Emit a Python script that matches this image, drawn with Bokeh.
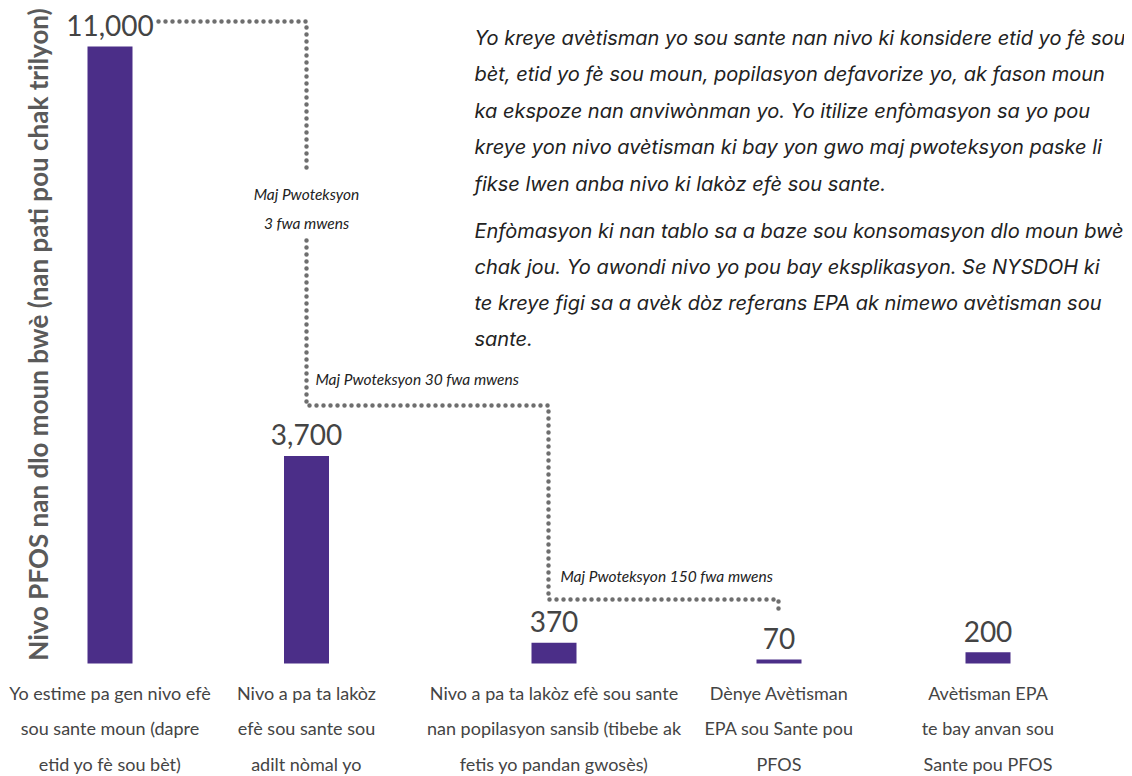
import math
from bokeh.plotting import figure
from bokeh.models import Range1d, ColumnDataSource
from bokeh.core.properties import value
from bokeh.embed import file_html
from bokeh.resources import INLINE

# ---------------- data ----------------
categories = [
    "Yo estime pa gen nivo efè\nsou sante moun (dapre\netid yo fè sou bèt)",
    "Nivo a pa ta lakòz\nefè sou sante sou\nadilt nòmal yo",
    "Nivo a pa ta lakòz efè sou sante\nnan popilasyon sansib (tibebe ak\nfetis yo pandan gwosès)",
    "Dènye Avètisman\nEPA sou Sante pou\nPFOS",
    "Avètisman EPA\nte bay anvan sou\nSante pou PFOS",
]
values = [11000, 3700, 370, 70, 200]
value_labels = ["11,000", "3,700", "370", "70", "200"]
y_title = "Nivo PFOS nan dlo moun bwè (nan pati pou chak trilyon)"
protection_notes = ["Maj Pwoteksyon\n3 fwa mwens", "Maj Pwoteksyon 30 fwa mwens", "Maj Pwoteksyon 150 fwa mwens"]
paragraph1 = [
    "Yo kreye avètisman yo sou sante nan nivo ki konsidere etid yo fè sou",
    "bèt, etid yo fè sou moun, popilasyon defavorize yo, ak fason moun",
    "ka ekspoze nan anviwònman yo. Yo itilize enfòmasyon sa yo pou",
    "kreye yon nivo avètisman ki bay yon gwo maj pwoteksyon paske li",
    "fikse lwen anba nivo ki lakòz efè sou sante.",
]
paragraph2 = [
    "Enfòmasyon ki nan tablo sa a baze sou konsomasyon dlo moun bwè",
    "chak jou. Yo awondi nivo yo pou bay eksplikasyon. Se NYSDOH ki",
    "te kreye figi sa a avèk dòz referans EPA ak nimewo avètisman sou",
    "sante.",
]

# ---------------- layout ----------------
W, H = 1124, 776
OFF = 0              # page pixel where the figure starts
BASE_PX = 663.0      # page pixel of value 0
TOP_PX = 46.0        # page pixel of value 11000
ppu = (BASE_PX - TOP_PX) / values[0]
y_lo = (BASE_PX - (OFF + H)) / ppu
y_hi = (BASE_PX - OFF) / ppu

bar_centers = [109.5, 306, 553.5, 778.5, 987.5]
BAR_W = 45
PURPLE = "#4b2e88"
F_NARROW = "Lato"
F_PARA = "Inter"

p = figure(width=W, height=H, output_backend="svg", toolbar_location=None,
           x_range=Range1d(OFF, OFF + W), y_range=Range1d(y_lo, y_hi),
           min_border=0, outline_line_color=None, background_fill_color="white",
           border_fill_color="white")
p.extra_y_ranges = {"px": Range1d(start=OFF + H, end=OFF)}
p.xaxis.visible = False
p.yaxis.visible = False
p.xgrid.visible = False
p.ygrid.visible = False

# bars
src = ColumnDataSource(dict(x=bar_centers, top=values, lab=value_labels))
p.vbar(x="x", top="top", bottom=0, width=BAR_W, source=src, fill_color=PURPLE, line_color=None)
p.text(x="x", y="top", text="lab", source=src, text_align="center", text_baseline="middle",
       y_offset=-21, text_font=value(F_NARROW), text_font_size="28px", text_color="#444444")

# category labels
cx, cy, ct = [], [], []
for xc, cat in zip(bar_centers, categories):
    for i, line in enumerate(cat.split("\n")):
        cx.append(xc); cy.append(692 + i * 35.5); ct.append(line)
p.text(x=cx, y=cy, text=ct, y_range_name="px", text_align="center", text_baseline="middle",
       text_font=value(F_NARROW), text_font_size="18px", text_color="#444444")

# y title
p.text(x=[37], y=[334], text=[y_title], y_range_name="px", angle=math.pi / 2,
       text_align="center", text_baseline="middle", text_font=value(F_NARROW),
       text_font_size="26px", text_font_style="bold", text_color="#5a5a5a")

# dotted connector
dot = dict(line_color="#6e6e6e", line_width=4.5, line_dash="0 7", line_cap="round", y_range_name="px")
p.line(x=[158, 306, 306], y=[21, 21, 172], **dot)
p.line(x=[306, 306, 548, 548, 778, 778], y=[240, 405, 405, 599, 599, 610], **dot)

# protection notes
n1 = protection_notes[0].split("\n")
note = dict(y_range_name="px", text_baseline="middle", text_font=value(F_NARROW),
            text_font_size="15.5px", text_font_style="italic", text_color="#222222")
p.text(x=[306, 306], y=[193, 222], text=n1, text_align="center", **note)
p.text(x=[315], y=[378], text=[protection_notes[1]], text_align="left", **note)
p.text(x=[560], y=[575], text=[protection_notes[2]], text_align="left", **note)

# paragraph
py = [37 + i * 36.5 for i in range(len(paragraph1))] + [230 + i * 36.2 for i in range(len(paragraph2))]
p.text(x=[474] * len(py), y=py, text=paragraph1 + paragraph2, y_range_name="px",
       text_align="left", text_baseline="middle", text_font=value(F_PARA),
       text_font_size="20px", text_font_style="italic", text_color="#222222")

open("out.html", "w").write(file_html(p, INLINE))
